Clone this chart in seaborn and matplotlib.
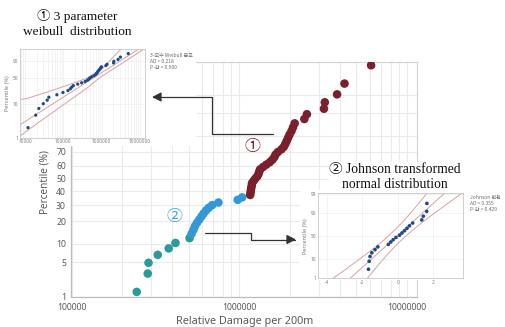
import numpy as np
import pandas as pd
import seaborn as sns
import matplotlib
matplotlib.use("Agg")
import matplotlib.pyplot as plt
from matplotlib.patches import Rectangle, FancyArrowPatch
from matplotlib.path import Path
from matplotlib.ticker import FixedLocator, NullFormatter, NullLocator, LogLocator, FuncFormatter
from statistics import NormalDist

# ---------------- data ----------------
# lower tail (Johnson group, first part)
teal_damage = [245000, 285000, 288000, 327000, 380000, 417000, 506000]
teal_pct = [1.3, 3.1, 4.9, 6.7, 8.5, 10.3, 12.1]

# Johnson group, upper part
blue_damage = [520000, 534000, 545000, 561000, 579000, 597000, 614000, 634000,
               658000, 690000, 752000, 980000, 1042000]
blue_pct = [13.9, 15.7, 17.5, 19.3, 21.1, 22.9, 24.7, 26.5, 28.3, 30.1, 31.9, 33.8, 35.6]

# Weibull group
red_damage = [1163000, 1170000, 1174000, 1181000, 1189000, 1193000, 1219000, 1249000,
              1283000, 1304000, 1317000, 1334000, 1389000, 1452000, 1522000, 1577000,
              1618000, 1647000, 1702000, 1787000, 1849000, 1888000, 1923000, 1960000,
              1999000, 2052000, 2095000, 2144000, 2448000, 2535000, 3204000, 3242000,
              3837000, 4249000, 6122000]
red_pct = [37.4, 39.2, 41.0, 42.8, 44.6, 46.4, 48.2, 50.0, 51.8, 53.6, 55.4, 57.2,
           59.0, 60.8, 62.6, 64.4, 66.2, 68.1, 69.9, 71.7, 73.5, 75.3, 77.1, 78.9,
           80.7, 82.5, 84.3, 86.1, 87.9, 89.7, 91.5, 93.3, 95.1, 96.9, 98.7]

# 3-parameter Weibull probability plot of the Weibull group
weibull_threshold = 1151000
weibull_pct = [2.0, 4.8, 7.6, 10.5, 13.3, 16.1, 18.9, 21.8, 24.6, 27.4, 30.2, 33.1,
               35.9, 38.7, 41.5, 44.4, 47.2, 50.0, 52.8, 55.6, 58.5, 61.3, 64.1, 66.9,
               69.8, 72.6, 75.4, 78.2, 81.1, 83.9, 86.7, 89.5, 92.4, 95.2, 98.0]
weibull_shape = 0.754
weibull_scale = 998000
fit_pct = [0.5, 1, 5, 20, 50, 80, 95, 99, 99.9]
band_upper_pct = [10.0, 13.8, 14.9, 25.3, 48.9, 75.3, 90.0, 99.35, 99.9]
band_upper_val = [2220, 7400, 11480, 54800, 408000, 1089000, 1618000, 3020000, 3847000]
band_lower_pct = [1.0, 2.03, 10.0, 28.1, 50.0, 90.0, 99.35, 99.9]
band_lower_val = [6640, 14960, 103700, 408000, 871000, 4256000, 11700000, 17700000]

# Johnson-transformed normal probability plot of the Johnson group
johnson_z = [-1.65, -1.61, -1.56, -1.46, -1.28, -1.12, -0.53, -0.39, -0.26, -0.10,
             0.10, 0.24, 0.38, 0.52, 0.66, 0.84, 1.35, 1.44, 1.63, 1.64]
johnson_pct = [3.4, 8.3, 13.2, 18.1, 23.0, 27.9, 32.8, 37.7, 42.6, 47.5,
               52.5, 57.4, 62.3, 67.2, 72.1, 77.0, 81.9, 86.8, 91.7, 96.6]

main_yticks = [1, 5, 10, 20, 30, 40, 50, 60, 70]
main_ygrid_extra = [80, 90, 95]
main_xticks = [1e5, 1e6, 1e7]
weib_xticks = [1e4, 1e5, 1e6, 1e7]
weib_yticks = [1, 10, 50, 90]
john_xticks = [-4, -2, 0, 2]
john_yticks = [1, 10, 50, 90, 99]

# ---------------- colours ----------------
TEAL = "#2a9b98"
BLUE = "#3498d6"
MAROON = "#7a1f2c"
NAVY = "#1d4a8a"
ROSE = "#d9a2a2"
GREY_TXT = "#595959"
GRID = "#ebebeb"

sns.set_theme(style="white")
plt.rcParams["font.family"] = ["Noto Sans", "Noto Sans CJK KR", "DejaVu Sans"]

W, H = 506, 327
fig = plt.figure(figsize=(W / 100, H / 100), dpi=100)


def fr(x0, y0, x1, y1):
    """pixel box (top-left origin) -> figure rect"""
    return [x0 / W, 1 - y1 / H, (x1 - x0) / W, (y1 - y0) / H]


def fx(x):
    return x / W


def fy(y):
    return 1 - y / H


_nd = NormalDist()
_inv = np.vectorize(_nd.inv_cdf, otypes=[float])
_cdf = np.vectorize(_nd.cdf, otypes=[float])


def pct_to_z(p):
    p = np.clip(np.asarray(p, float) / 100.0, 1e-7, 1 - 1e-7)
    return _inv(p)


def z_to_pct(z):
    return _cdf(np.asarray(z, float)) * 100.0


def pct_to_w(p):
    p = np.clip(np.asarray(p, float) / 100.0, 1e-9, 1 - 1e-9)
    return np.log(-np.log1p(-p))


def w_to_pct(w):
    return -np.expm1(-np.exp(np.asarray(w, float))) * 100.0


pct_fmt = FuncFormatter(lambda v, _: f"{v:g}")
int_fmt = FuncFormatter(lambda v, _: f"{int(round(v))}")

# ---------------- main probability plot ----------------
ax = fig.add_axes(fr(71.5, 62, 417, 297))
ax.set_zorder(1)
ax.set_xscale("log")
ax.set_yscale("function", functions=(pct_to_z, z_to_pct))
ax.set_axisbelow(True)

main = pd.DataFrame({
    "damage": teal_damage + blue_damage + red_damage,
    "pct": teal_pct + blue_pct + red_pct,
    "group": ["tail"] * len(teal_damage) + ["johnson"] * len(blue_damage)
             + ["weibull"] * len(red_damage),
})
sns.scatterplot(data=main, x="damage", y="pct", hue="group",
                palette={"tail": TEAL, "johnson": BLUE, "weibull": MAROON},
                s=38, edgecolor="none", linewidth=0, legend=False, ax=ax, zorder=3)

ax.set_xlim(1e5, 1.15e7)
ax.set_ylim(1, 98.9)
ax.xaxis.set_major_locator(FixedLocator(main_xticks))
ax.xaxis.set_major_formatter(int_fmt)
ax.xaxis.set_minor_locator(LogLocator(base=10, subs=np.arange(2, 10)))
ax.xaxis.set_minor_formatter(NullFormatter())
ax.yaxis.set_major_locator(FixedLocator(main_yticks))
ax.yaxis.set_major_formatter(pct_fmt)
ax.yaxis.set_minor_locator(FixedLocator(main_ygrid_extra))
ax.yaxis.set_minor_formatter(NullFormatter())
ax.grid(True, which="both", color=GRID, lw=0.8)
ax.tick_params(which="major", labelsize=6.2, colors=GREY_TXT, length=2.5, width=0.6, pad=1.5)
ax.tick_params(which="minor", length=0)
for side in ("left", "bottom"):
    ax.spines[side].set_color("#bdbdbd")
    ax.spines[side].set_linewidth(0.9)
for side in ("top", "right"):
    ax.spines[side].set_color("#d6d6d6")
    ax.spines[side].set_linewidth(0.9)
ax.set_xlabel("Relative Damage per 200m", fontsize=7.8, color=GREY_TXT, labelpad=3)
ax.set_ylabel("Percentile (%)", fontsize=7.2, color=GREY_TXT, labelpad=1.5)
ax.yaxis.set_label_coords(-0.062, 0.49)

# circled group markers
fig.text(fx(253), fy(147), "\u2460", fontsize=11.5, color=MAROON, ha="center", va="center",
         family=["Noto Sans CJK KR", "DejaVu Sans"], zorder=5)
fig.text(fx(175), fy(217), "\u2461", fontsize=11.5, color="#3ca3dc", ha="center", va="center",
         family=["Noto Sans CJK KR", "DejaVu Sans"], zorder=5)

# white panels behind the two small plots
fig.add_artist(Rectangle((0, fy(146)), fx(196), 1 - fy(146), transform=fig.transFigure,
                         facecolor="white", edgecolor="none", zorder=2))
fig.add_artist(Rectangle((fx(300), fy(280)), 1 - fx(300), fy(190) - fy(280),
                         transform=fig.transFigure, facecolor="white", edgecolor="none", zorder=2))


def style_inset(a):
    a.set_zorder(3)
    a.set_facecolor("white")
    for s in a.spines.values():
        s.set_color("#c9c9c9")
        s.set_linewidth(0.6)
    a.tick_params(which="major", labelsize=3.4, colors="#7a7a7a", length=0, pad=1.2)
    a.tick_params(which="minor", length=0)
    a.set_axisbelow(True)
    a.set_xlabel("")


# ---------------- Weibull inset ----------------
axL = fig.add_axes(fr(20, 49, 145, 137.5))
axL.set_xscale("log")
axL.set_yscale("function", functions=(pct_to_w, w_to_pct))
shifted = [v - weibull_threshold for v in red_damage]
fit_val = [weibull_scale * (-np.log1p(-p / 100.0)) ** (1 / weibull_shape) for p in fit_pct]
line_kw = dict(color=ROSE, lw=0.7, sort=False, estimator=None, ax=axL)
sns.lineplot(x=band_upper_val, y=band_upper_pct, **line_kw)
sns.lineplot(x=fit_val, y=fit_pct, **line_kw)
sns.lineplot(x=band_lower_val, y=band_lower_pct, **line_kw)
sns.scatterplot(x=shifted, y=weibull_pct, color=NAVY, s=5.5, edgecolor="none",
                linewidth=0, ax=axL, zorder=4)
axL.set_xlim(7400, 1.36e7)
axL.set_ylim(1, 99.55)
axL.xaxis.set_major_locator(FixedLocator(weib_xticks))
axL.xaxis.set_major_formatter(int_fmt)
axL.xaxis.set_minor_locator(LogLocator(base=10, subs=np.arange(2, 10)))
axL.xaxis.set_minor_formatter(NullFormatter())
axL.yaxis.set_major_locator(FixedLocator(weib_yticks))
axL.yaxis.set_major_formatter(pct_fmt)
axL.yaxis.set_minor_locator(NullLocator())
axL.grid(True, which="major", color="#efefef", lw=0.5)
axL.grid(True, which="minor", axis="x", color="#efefef", lw=0.5)
style_inset(axL)
axL.set_ylabel("Percentile (%)", fontsize=4, color="#7a7a7a", labelpad=2)

fig.text(fx(77), fy(23.5), "\u2460 3 parameter\nweibull  distribution", fontsize=9.6,
         ha="center", va="center", linespacing=1.25, color="#111111",
         family=["Liberation Serif", "Noto Sans CJK KR", "DejaVu Sans"], zorder=5)
fig.text(fx(150), fy(53), "3-모수 Weibull 분포\nAD = 0.218\nP-값 > 0.500", fontsize=3.6,
         ha="left", va="top", linespacing=1.3, color="#6f6f6f",
         family=["Noto Sans CJK KR", "DejaVu Sans"], zorder=5)

# ---------------- Johnson inset ----------------
axR = fig.add_axes(fr(318, 193.3, 463.3, 278.3))
axR.set_yscale("function", functions=(pct_to_z, z_to_pct))
jz = np.array(johnson_z)
mu, sd = jz.mean(), jz.std(ddof=1)
n = len(jz)
zq = np.linspace(-3.2, 3.2, 60)
half = 1.96 * sd * np.sqrt(1 / n + zq ** 2 / (2 * (n - 1)))
q_pct = z_to_pct(zq)
line_kw = dict(color=ROSE, lw=0.7, sort=False, estimator=None, ax=axR)
sns.lineplot(x=mu + sd * zq - half, y=q_pct, **line_kw)
sns.lineplot(x=mu + sd * zq, y=q_pct, **line_kw)
sns.lineplot(x=mu + sd * zq + half, y=q_pct, **line_kw)
sns.scatterplot(x=johnson_z, y=johnson_pct, color=NAVY, s=7, edgecolor="none",
                linewidth=0, ax=axR, zorder=4)
axR.set_xlim(-4.49, 3.69)
axR.set_ylim(1, 99.15)
axR.xaxis.set_major_locator(FixedLocator(john_xticks))
axR.xaxis.set_major_formatter(pct_fmt)
axR.yaxis.set_major_locator(FixedLocator(john_yticks))
axR.yaxis.set_major_formatter(pct_fmt)
axR.yaxis.set_minor_locator(NullLocator())
axR.grid(True, which="major", color="#efefef", lw=0.5)
style_inset(axR)
axR.set_ylabel("Percentile (%)", fontsize=4, color="#7a7a7a", labelpad=2)

fig.text(fx(395), fy(176.5), "\u2461 Johnson transformed\nnormal distribution", fontsize=9.8,
         ha="center", va="center", linespacing=1.2, color="#111111",
         family=["Liberation Serif", "Noto Sans CJK KR", "DejaVu Sans"], zorder=5,
         bbox=dict(facecolor="white", edgecolor="none", pad=0.5))
fig.text(fx(470), fy(195), "Johnson 변환\nAD = 0.355\nP-값 = 0.429", fontsize=3.6,
         ha="left", va="top", linespacing=1.3, color="#6f6f6f",
         family=["Noto Sans CJK KR", "DejaVu Sans"], zorder=5)

# ---------------- connector arrows ----------------
def connector(pts):
    verts = [(fx(x), fy(y)) for x, y in pts]
    codes = [Path.MOVETO] + [Path.LINETO] * (len(verts) - 1)
    arr = FancyArrowPatch(path=Path(verts, codes), arrowstyle="-|>,head_length=0.55,head_width=0.28",
                          mutation_scale=10, color="#333333", lw=0.9,
                          transform=fig.transFigure, zorder=6)
    fig.add_artist(arr)


connector([(273, 134), (212, 134), (212, 97), (152, 97)])
connector([(205, 233), (251.5, 233), (251.5, 239.5), (296, 239.5)])

fig.savefig("out.png", dpi=100, facecolor="white")
